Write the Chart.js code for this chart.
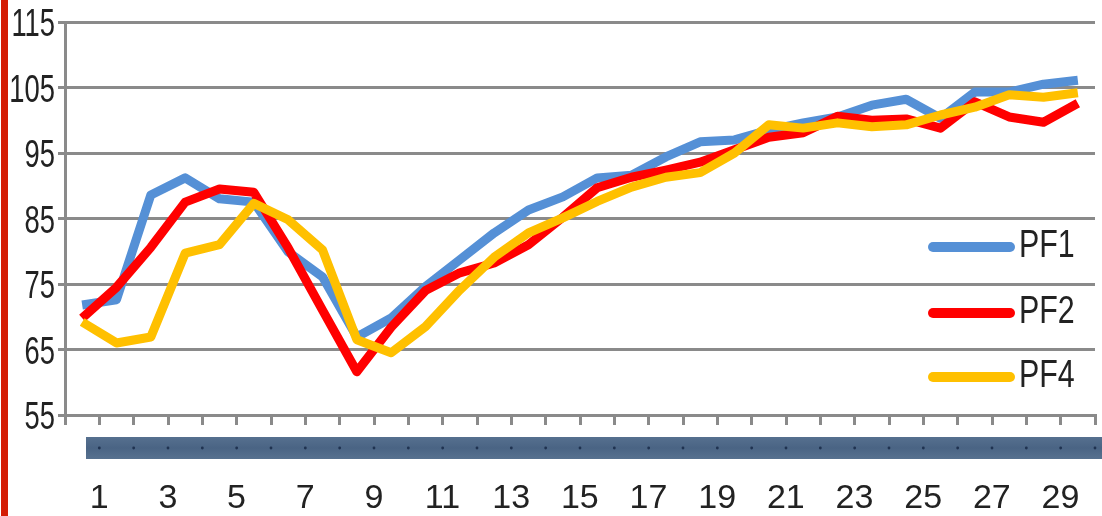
<!DOCTYPE html>
<html>
<head>
<meta charset="utf-8">
<script src="https://cdn.jsdelivr.net/npm/chart.js@4.4.1/dist/chart.umd.min.js"></script>
<style>
  html, body { margin: 0; padding: 0; background: #ffffff; }
  #wrap { position: relative; width: 1102px; height: 516px; overflow: hidden; }
  #c { position: absolute; left: 0; top: 0; }
  #edge { position: absolute; left: 1px; top: 0; width: 7px; height: 516px; background: #d41c04; }
</style>
</head>
<body>
<div id="wrap">
  <canvas id="c" width="1102" height="516"></canvas>
  <div id="edge"></div>
</div>
<script>
// Day numbers along the horizontal axis
const days = ['1','2','3','4','5','6','7','8','9','10','11','12','13','14','15',
              '16','17','18','19','20','21','22','23','24','25','26','27','28','29','30'];

// Series values
const pf1 = [71.8, 72.6, 88.6, 91.2, 88.0, 87.5, 79.9, 76.1, 66.9, 69.8,
             74.6, 78.7, 82.8, 86.3, 88.3, 91.2, 91.6, 94.4, 96.7, 97.0,
             98.5, 99.6, 100.5, 102.3, 103.2, 100.3, 104.3, 104.3, 105.5, 106.1];
const pf2 = [69.8, 74.5, 80.6, 87.5, 89.5, 89.0, 80.5, 71.0, 61.6, 68.4,
             74.0, 76.7, 78.2, 81.0, 85.2, 89.7, 91.3, 92.4, 93.6, 95.5,
             97.4, 98.1, 100.6, 100.0, 100.2, 98.8, 102.8, 100.5, 99.7, 102.6];
const pf4 = [69.2, 66.0, 66.9, 79.7, 81.0, 87.3, 84.8, 80.2, 66.5, 64.5,
             68.5, 74.1, 79.1, 82.8, 85.1, 87.6, 89.8, 91.3, 92.0, 95.0,
             99.3, 98.8, 99.6, 99.0, 99.3, 100.8, 102.0, 103.9, 103.5, 104.2];

// Vertical axis tick values
const yTicks = [55, 65, 75, 85, 95, 105, 115];

const seriesNames = ['PF1', 'PF2', 'PF4'];
const seriesColors = ['#5590d6', '#ff0000', '#ffc000'];

const GRID = '#8a8a8a';
const TEXT = '#222222';
const SANS = '"Liberation Sans", "Open Sans", sans-serif';

// Draws text squeezed horizontally (narrow face look)
function narrowText(ctx, text, x, y, size, squeeze, align) {
  ctx.save();
  ctx.translate(x, y);
  ctx.scale(squeeze, 1);
  ctx.font = size + 'px ' + SANS;
  ctx.fillStyle = TEXT;
  ctx.textAlign = align;
  ctx.textBaseline = 'middle';
  ctx.fillText(text, 0, 0);
  ctx.restore();
}

// Value labels of the vertical axis
const yLabels = {
  id: 'yLabels',
  afterDraw(chart) {
    const { ctx, chartArea, scales } = chart;
    scales.y.ticks.forEach(t => {
      const py = scales.y.getPixelForValue(t.value) + 4;
      narrowText(ctx, String(t.value), chartArea.left - 10, py, 38, 0.72, 'right');
    });
  }
};

// Textured strip drawn beneath the horizontal axis
const stripPlugin = {
  id: 'strip',
  afterDraw(chart) {
    const { ctx, chartArea, scales } = chart;
    const x = scales.x;
    const left = chartArea.left + 21;
    const top = chartArea.bottom + 22;
    const h = 22;
    ctx.save();
    const g = ctx.createLinearGradient(0, top, 0, top + h);
    g.addColorStop(0, '#56708f');
    g.addColorStop(0.5, '#4a6484');
    g.addColorStop(1, '#57718f');
    ctx.fillStyle = g;
    ctx.fillRect(left, top, chart.width - left, h);
    const step = x.getPixelForValue(1) - x.getPixelForValue(0);
    ctx.fillStyle = '#1f3250';
    for (let i = 0; i < days.length; i++) {
      const px = x.getPixelForValue(i) + step / 2;
      if (px > left) {
        ctx.beginPath();
        ctx.arc(px, top + h / 2, 1.4, 0, Math.PI * 2);
        ctx.fill();
      }
    }
    ctx.restore();
  }
};

// Legend drawn inside the plot, right side
const insideLegend = {
  id: 'insideLegend',
  afterDatasetsDraw(chart) {
    const { ctx, chartArea } = chart;
    const offsets = [168, 102, 38];
    chart.data.datasets.forEach((ds, i) => {
      const y = chartArea.bottom - offsets[i];
      ctx.save();
      ctx.strokeStyle = ds.borderColor;
      ctx.lineWidth = 10;
      ctx.lineCap = 'round';
      ctx.beginPath();
      ctx.moveTo(chartArea.right - 162, y);
      ctx.lineTo(chartArea.right - 85, y);
      ctx.stroke();
      ctx.restore();
      narrowText(ctx, ds.label, chartArea.right - 76, y, 38, 0.8, 'left');
    });
  }
};

new Chart(document.getElementById('c'), {
  type: 'line',
  data: {
    labels: days,
    datasets: [
      { label: seriesNames[0], data: pf1, borderColor: seriesColors[0], order: 2 },
      { label: seriesNames[1], data: pf2, borderColor: seriesColors[1], order: 1 },
      { label: seriesNames[2], data: pf4, borderColor: seriesColors[2], order: 0 }
    ].map(d => Object.assign(d, {
      borderWidth: 9,
      pointRadius: 0,
      tension: 0,
      fill: false,
      borderJoinStyle: 'round',
      borderCapStyle: 'butt'
    }))
  },
  options: {
    responsive: false,
    animation: false,
    devicePixelRatio: 1,
    layout: { padding: { top: 22, right: 7, bottom: 0, left: 0 } },
    plugins: { legend: { display: false }, tooltip: { enabled: false } },
    scales: {
      x: {
        type: 'category',
        offset: true,
        grid: {
          offset: true,
          drawOnChartArea: false,
          drawTicks: true,
          tickLength: 10,
          color: GRID,
          lineWidth: 3
        },
        border: { display: true, color: GRID, width: 3 },
        ticks: {
          autoSkip: false,
          maxRotation: 0,
          labelOffset: 17,
          padding: 53,
          color: TEXT,
          font: { family: SANS, size: 34 },
          callback: (v, i) => (i % 2 === 0 ? days[i] : '')
        },
        afterFit: s => { s.height = 101; s.paddingLeft = 0; s.paddingRight = 0; }
      },
      y: {
        min: yTicks[0],
        max: yTicks[yTicks.length - 1],
        afterBuildTicks: s => { s.ticks = yTicks.map(v => ({ value: v })); },
        grid: {
          color: GRID,
          lineWidth: 3,
          tickLength: 7,
          drawTicks: true
        },
        border: { display: true, color: GRID, width: 3 },
        ticks: { display: false },
        afterFit: s => { s.width = 65; s.paddingTop = 0; s.paddingBottom = 0; }
      }
    }
  },
  plugins: [stripPlugin, insideLegend, yLabels]
});
</script>
</body>
</html>
